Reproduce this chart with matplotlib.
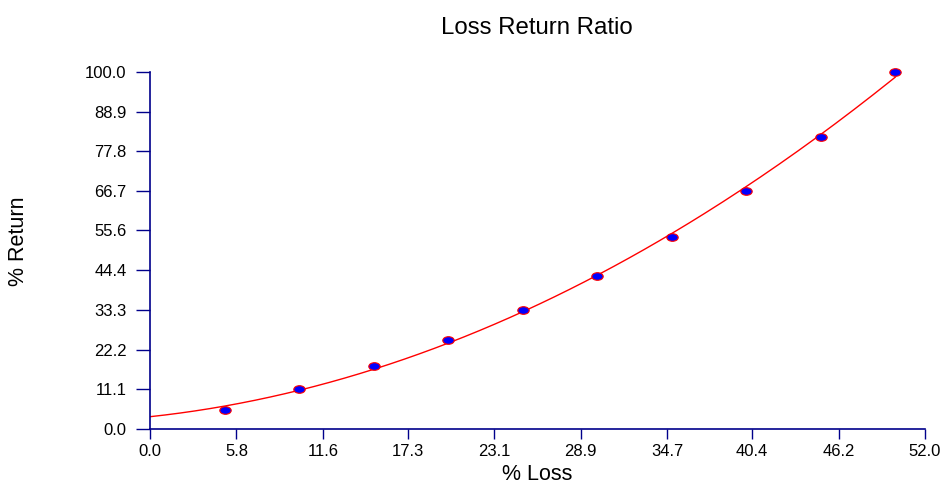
import numpy as np
import matplotlib.pyplot as plt
from matplotlib.markers import MarkerStyle
from matplotlib.transforms import Affine2D

plt.rcParams['font.family'] = ['Liberation Sans', 'DejaVu Sans']

# % loss and the % return needed to recover it
loss = [5, 10, 15, 20, 25, 30, 35, 40, 45, 50]
ret = [5.26, 11.11, 17.65, 25.0, 33.33, 42.86, 53.85, 66.67, 81.82, 100.0]

xticks = [0.0, 5.8, 11.6, 17.3, 23.1, 28.9, 34.7, 40.4, 46.2, 52.0]
yticks = [0.0, 11.1, 22.2, 33.3, 44.4, 55.6, 66.7, 77.8, 88.9, 100.0]

navy = '#00008B'

fig = plt.figure(figsize=(9.41, 4.83), dpi=100)
ax = fig.add_axes([0.1594, 0.1118, 0.8236, 0.7392])

# quadratic trend through the points
coef = np.polyfit(loss, ret, 2)
xs = np.linspace(0, 50, 200)
ax.plot(xs, np.polyval(coef, xs), color='red', lw=1, zorder=2)

mk = MarkerStyle('o', transform=Affine2D().scale(1.5, 1.0))
ax.scatter(loss, ret, marker=mk, s=30, facecolor='blue', edgecolor='red',
           linewidth=0.8, zorder=3, clip_on=False)

ax.set_xlim(0, 52)
ax.set_ylim(0, 100)
ax.set_xticks(xticks)
ax.set_yticks(yticks)
ax.set_xticklabels([f'{v:.1f}' for v in xticks])
ax.set_yticklabels([f'{v:.1f}' for v in yticks])

for s in ['top', 'right']:
    ax.spines[s].set_visible(False)
for s in ['left', 'bottom']:
    ax.spines[s].set_color(navy)
    ax.spines[s].set_linewidth(1.2)
ax.tick_params(colors=navy, labelcolor='black', labelsize=12,
               width=1, direction='out')
ax.tick_params(axis='y', length=10, pad=7)
ax.tick_params(axis='x', length=7, pad=4)

fig.text(0.5708, 1 - 28 / 483, 'Loss Return Ratio', fontsize=17.3,
         ha='center', va='center')
fig.text(0.5708, 1 - 474 / 483, '% Loss', fontsize=15.5,
         ha='center', va='center')
fig.text(19 / 941, 0.5, '% Return', fontsize=15.5, rotation=90,
         ha='center', va='center')

fig.savefig('out.png', dpi=100)
